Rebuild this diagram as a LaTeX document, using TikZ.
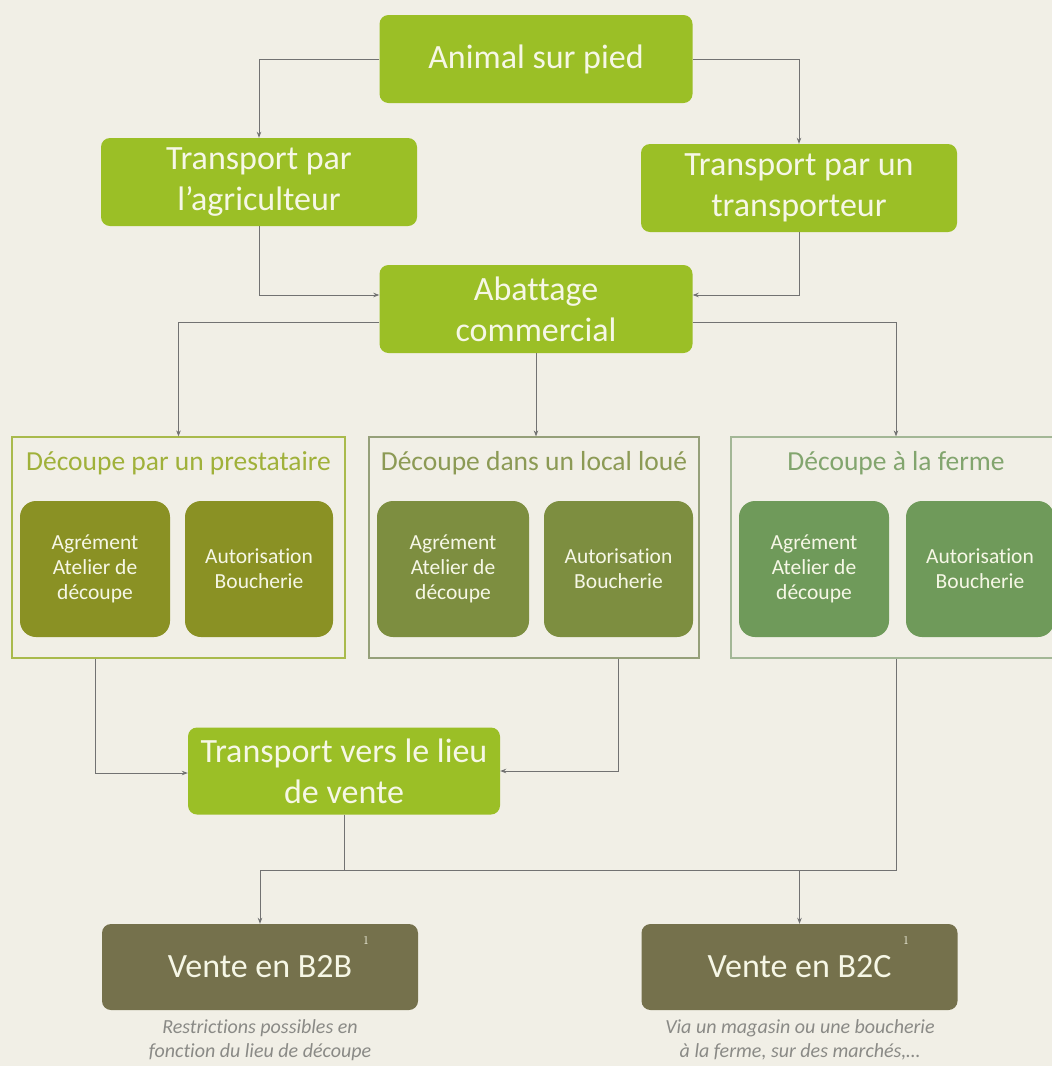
\documentclass[tikz,border=0pt]{standalone}
\usepackage{fontspec}
\setmainfont{Carlito}[Ligatures=NoCommon]
\usetikzlibrary{arrows.meta}
\definecolor{bg}{HTML}{F1EFE6}
\definecolor{gbox}{HTML}{9BBF26}
\definecolor{dbox}{HTML}{75714C}
\definecolor{inA}{HTML}{8A9124}
\definecolor{tiA}{HTML}{A0B13A}
\definecolor{boA}{HTML}{A9BA4C}
\definecolor{inB}{HTML}{7D8E40}
\definecolor{tiB}{HTML}{8C9A55}
\definecolor{boB}{HTML}{96A07A}
\definecolor{inC}{HTML}{6F9A5A}
\definecolor{tiC}{HTML}{82A56E}
\definecolor{boC}{HTML}{A3B796}
\definecolor{txt}{HTML}{F6F7E6}
\definecolor{lin}{HTML}{727272}
\definecolor{cap}{HTML}{8A8A86}
\tikzset{
  mainbox/.style={fill=gbox, rounded corners=9pt, text=txt, align=center,
    font=\fontsize{34}{41}\selectfont, inner sep=0pt},
  salebox/.style={fill=dbox, rounded corners=9pt, text=txt, align=center,
    font=\fontsize{34}{41}\selectfont, inner sep=0pt,
    minimum width=316pt, minimum height=86pt},
  grpbox/.style={draw, line width=1.2pt, inner sep=0pt, minimum height=221pt},
  grptitle/.style={font=\fontsize{27.5}{32}\selectfont, inner sep=0pt},
  innerbox/.style={rounded corners=16pt, text=txt, align=center,
    font=\fontsize{21.5}{25}\selectfont, inner sep=0pt, minimum height=136pt},
  conn/.style={draw=lin, line width=0.9pt},
  arr/.style={conn, -{Stealth[length=6pt,width=4.5pt]}},
  caption/.style={text=cap, align=center, font=\fontsize{20}{24}\selectfont\itshape, inner sep=0pt},
  supnum/.style={text=txt, font=\fontsize{13}{13}\selectfont, inner sep=0pt}
}
\begin{document}
\begin{tikzpicture}[x=1pt,y=-1pt]
\useasboundingbox (0,0) rectangle (1052,1066);
\clip (0,0) rectangle (1052,1066);
\fill[bg] (0,0) rectangle (1052,1066);

% top boxes
\node[mainbox, minimum width=313pt, minimum height=88pt] (animal) at (536,59) {Animal sur pied};
\node[mainbox, minimum width=316pt, minimum height=88pt] (agri) at (259,182) {Transport par\\l’agriculteur};
\node[mainbox, minimum width=316pt, minimum height=88pt] (transp) at (799,188) {Transport par un\\transporteur};
\node[mainbox, minimum width=313pt, minimum height=88pt] (abat) at (536,309) {Abattage\\commercial};

% groups
\node[grpbox, draw=boA, minimum width=333pt] (g1) at (178.5,547.5) {};
\node[grptitle, text=tiA] (t1) at (178.5,463) {Découpe par un prestataire};
\node[innerbox, fill=inA, minimum width=150pt] (a1) at (95,569) {Agrément\\Atelier de\\découpe};
\node[innerbox, fill=inA, minimum width=148pt] (b1) at (259,569) {Autorisation\\Boucherie};

\node[grpbox, draw=boB, minimum width=330pt] (g2) at (534,547.5) {};
\node[grptitle, text=tiB] (t2) at (534,463) {Découpe dans un local loué};
\node[innerbox, fill=inB, minimum width=152pt] (a2) at (453,569) {Agrément\\Atelier de\\découpe};
\node[innerbox, fill=inB, minimum width=149pt] (b2) at (618.5,569) {Autorisation\\Boucherie};

\node[grpbox, draw=boC, minimum width=330pt] (g3) at (896,547.5) {};
\node[grptitle, text=tiC] (t3) at (896,463) {Découpe à la ferme};
\node[innerbox, fill=inC, minimum width=150pt] (a3) at (814,569) {Agrément\\Atelier de\\découpe};
\node[innerbox, fill=inC, minimum width=148pt] (b3) at (980,569) {Autorisation\\Boucherie};

% transport to sale
\node[mainbox, minimum width=312pt, minimum height=87pt] (tv) at (344,771) {Transport vers le lieu\\de vente};

% sales
\node[salebox] (b2b) at (260,967) {Vente en B2B};
\node[supnum] (s1) at (366,941) {$1$};
\node[salebox] (b2c) at (799.5,967) {Vente en B2C};
\node[supnum] (s2) at (906,941) {$1$};

\node[caption] (c1) at (260,1040) {Restrictions possibles en\\fonction du lieu de découpe};
\node[caption] (c2) at (800,1040) {Via un magasin ou une boucherie\\à la ferme, sur des marchés,…};

\coordinate (bus) at (344,870);

% connectors
\draw[arr] (animal.west) -| (agri.north);
\draw[arr] (animal.east) -| (transp.north);
\draw[arr] (agri.south) |- ([yshift=14pt]abat.west);
\draw[arr] (transp.south) |- ([yshift=14pt]abat.east);
\draw[arr] ([yshift=-13pt]abat.west) -| (g1.north);
\draw[arr] (abat.south) -- (abat.south |- g2.north);
\draw[arr] ([yshift=-13pt]abat.east) -| (g3.north);
\draw[arr] (a1.south |- g1.south) |- ([yshift=-2pt]tv.west);
\draw[arr] (b2.south |- g2.south) |- (tv.east);
\draw[conn] (tv.south) -- (bus);
\draw[conn] (g3.south) |- (bus);
\draw[arr] (bus) -| (b2b.north);
\draw[arr] (bus) -| (b2c.north);
\end{tikzpicture}
\end{document}
